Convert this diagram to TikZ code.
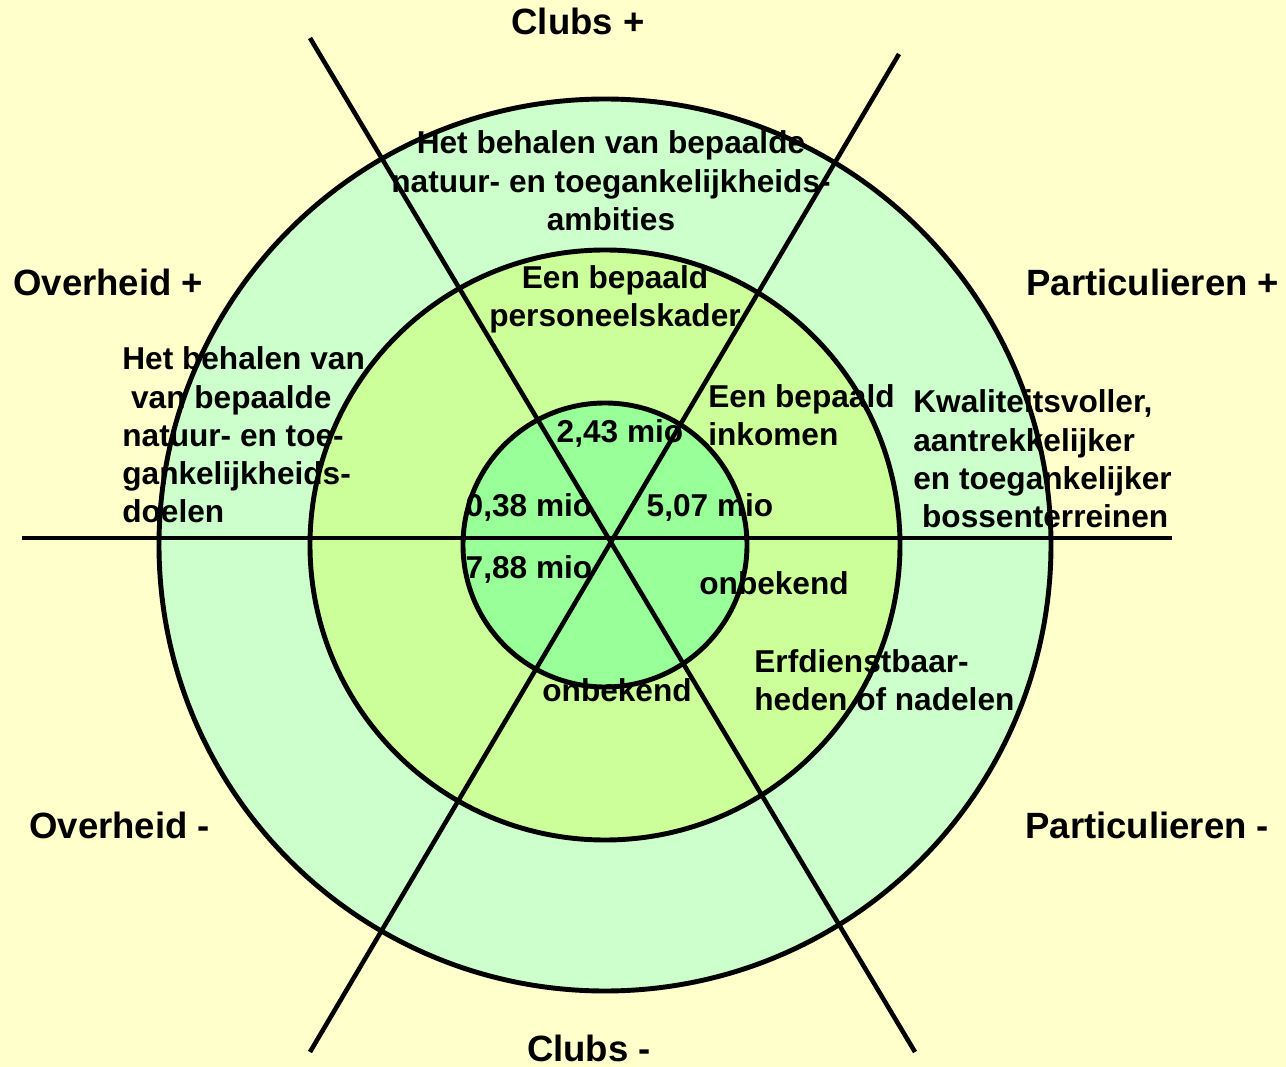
\documentclass[tikz,border=0pt]{standalone}
\usepackage{fontspec}
\setmainfont{Liberation Sans}
\usepackage[HTML]{xcolor}
\usepackage{tikz}
\usetikzlibrary{positioning}
\definecolor{achter}{HTML}{FFFFCC}
\definecolor{ring}{HTML}{CCFFCC}
\definecolor{midden}{HTML}{CCFF99}
\definecolor{kern}{HTML}{99FF99}

\begin{document}
\begin{tikzpicture}[x=0.02cm, y=-0.02cm,
  rand/.style={line width=2.8pt},
  spaak/.style={line width=2.6pt},
  kop/.style={font=\fontsize{20.8}{25}\selectfont\bfseries, inner sep=0pt},
  tekst/.style={font=\fontsize{18}{21.8}\selectfont\bfseries, inner sep=0pt, align=center},
  links/.style={tekst, align=left, anchor=west}]
\fill[achter] (0,0) rectangle (1286,1067);
\useasboundingbox (0,0) rectangle (1286,1067);
\coordinate (m) at (605,545);
\draw[rand,fill=ring] (m) circle [radius=446];
\draw[rand,fill=midden] (m) circle [radius=295];
\draw[rand,fill=kern] (m) circle [radius=142];
\coordinate (nw) at (310,38); \coordinate (se) at (915,1052);
\coordinate (ne) at (899,54); \coordinate (sw) at (310,1052);
\coordinate (w) at (22,538); \coordinate (e) at (1172,538);
\draw[spaak] (nw) -- (se);
\draw[spaak] (ne) -- (sw);
\draw[spaak] (w) -- (e);
\node[kop,anchor=base] (clubsplus) at (578,35) {Clubs +};
\node[kop,anchor=base] (clubsmin) at (589,1061) {Clubs -};
\node[kop,anchor=base west] (overplus) at (13,296) {Overheid +};
\node[kop,anchor=base west] (overmin) at (29,838) {Overheid -};
\node[kop,anchor=base west] (partplus) at (1026,296) {Particulieren +};
\node[kop,anchor=base west] (partmin) at (1025,838) {Particulieren -};
\node[tekst] (ambities) at (611,181) {Het behalen van bepaalde\\natuur- en toegankelijkheids-\\ambities};
\node[tekst] (kader) at (615,299) {Een bepaald\\personeelskader};
\node[links] (doelen) at (122,435) {Het behalen van\\\ van bepaalde\\natuur- en toe-\\gankelijkheids-\\doelen};
\node[links] (inkomen) at (708,415) {Een bepaald\\inkomen};
\node[links] (bossen) at (913,459) {Kwaliteitsvoller,\\aantrekkelijker\\en toegankelijker\\\ bossenterreinen};
\node[links] (nadelen) at (754,680) {Erfdienstbaar-\\heden of nadelen};
\node[tekst,anchor=base] (mioN) at (620,443) {2,43 mio};
\node[tekst,anchor=base] (mioNW) at (529,517) {0,38 mio};
\node[tekst,anchor=base] (mioNE) at (710,517) {5,07 mio};
\node[tekst,anchor=base] (mioSW) at (529,579) {7,88 mio};
\node[tekst,anchor=base west] (onbSE) at (699,595) {onbekend};
\node[tekst,anchor=base west] (onbS) at (542,702) {onbekend};
\end{tikzpicture}
\end{document}
